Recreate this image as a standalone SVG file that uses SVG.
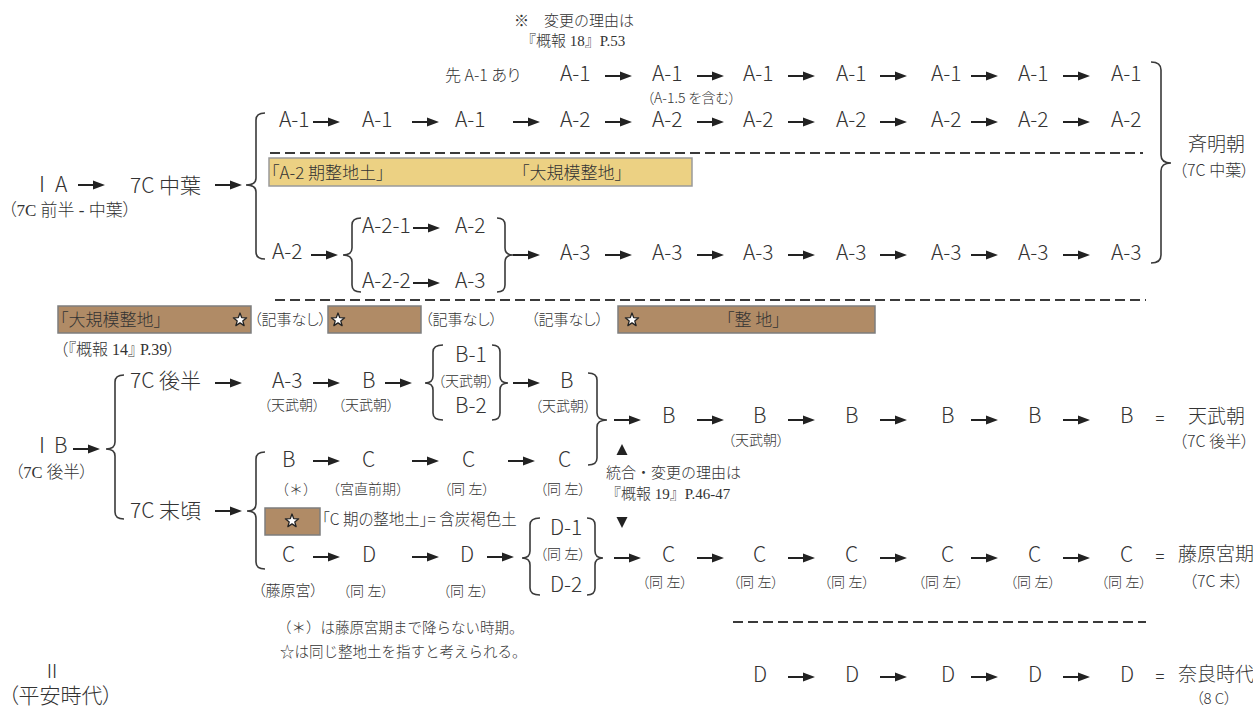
<svg xmlns="http://www.w3.org/2000/svg" xmlns:xlink="http://www.w3.org/1999/xlink" width="1253" height="706" viewBox="0 0 1253 706">
<style>
text{fill:#333;font-feature-settings:"palt"}
.np{font-feature-settings:normal}
.n{font-family:"Noto Sans CJK JP",sans-serif;font-size:21px;font-weight:300}
.m{font-family:"Liberation Serif","Noto Sans CJK JP",serif;font-size:14px;font-weight:300}
.m15{font-family:"Liberation Serif","Noto Sans CJK JP",serif;font-size:15px;font-weight:300}
.g{font-family:"Noto Sans CJK JP",sans-serif;font-size:15px;font-weight:300}
.b{font-family:"Noto Sans CJK JP",sans-serif;font-size:17px;font-weight:300}
.r{font-family:"Noto Sans CJK JP",sans-serif;font-size:19px;font-weight:300}
.eq{font-family:"Noto Sans CJK JP",sans-serif;font-size:16px;text-anchor:middle}
.br{fill:none;stroke:#3a3a3a;stroke-width:1.6}
.dash{stroke:#3a3a3a;stroke-width:2;stroke-dasharray:10 5}
.ylw{fill:#ECD183;stroke:#9a9a9a;stroke-width:1.5}
.brn{fill:#B08B66;stroke:#7d7d7d;stroke-width:1.5}
.ar{fill:#222}
.star{fill:#fff;stroke:#222;stroke-width:1.3;stroke-linejoin:round}
</style>
<defs>
<path id="ar" d="M0,-1.1 H15 V-4.5 L27,0 L15,4.5 V1.1 H0 Z"/>
<polygon id="st" points="0,-7 1.7,-2.35 6.66,-2.16 2.76,0.9 4.11,5.66 0,2.9 -4.11,5.66 -2.76,0.9 -6.66,-2.16 -1.7,-2.35"/>
</defs>
<rect width="1253" height="706" fill="#fff"/>

<!-- connectors -->
<g id="connectors">
<g class="ar">
<use href="#ar" x="605" y="76"/><use href="#ar" x="697" y="76"/><use href="#ar" x="788" y="76"/><use href="#ar" x="880" y="76"/><use href="#ar" x="971" y="76"/><use href="#ar" x="1063" y="76"/>
<use href="#ar" x="313" y="122"/><use href="#ar" x="412" y="122"/><use href="#ar" x="513" y="122"/><use href="#ar" x="605" y="122"/><use href="#ar" x="697" y="122"/><use href="#ar" x="788" y="122"/><use href="#ar" x="880" y="122"/><use href="#ar" x="971" y="122"/><use href="#ar" x="1063" y="122"/>
<use href="#ar" x="78" y="185"/><use href="#ar" x="215" y="185"/>
<use href="#ar" x="311" y="255"/><use href="#ar" x="413" y="228"/><use href="#ar" x="413" y="283"/>
<use href="#ar" x="513" y="255"/><use href="#ar" x="605" y="255"/><use href="#ar" x="697" y="255"/><use href="#ar" x="788" y="255"/><use href="#ar" x="880" y="255"/><use href="#ar" x="971" y="255"/><use href="#ar" x="1063" y="255"/>
<use href="#ar" x="73" y="449"/>
<use href="#ar" x="215" y="383"/><use href="#ar" x="313" y="383"/><use href="#ar" x="385" y="383"/><use href="#ar" x="513" y="383"/>
<use href="#ar" x="614" y="420"/><use href="#ar" x="697" y="420"/><use href="#ar" x="788" y="420"/><use href="#ar" x="880" y="420"/><use href="#ar" x="971" y="420"/><use href="#ar" x="1063" y="420"/>
<use href="#ar" x="215" y="511"/>
<use href="#ar" x="313" y="461"/><use href="#ar" x="412" y="461"/><use href="#ar" x="508" y="461"/>
<use href="#ar" x="313" y="557"/><use href="#ar" x="412" y="557"/><use href="#ar" x="487" y="557"/>
<use href="#ar" x="614" y="558"/><use href="#ar" x="697" y="558"/><use href="#ar" x="788" y="558"/><use href="#ar" x="880" y="558"/><use href="#ar" x="971" y="558"/><use href="#ar" x="1063" y="558"/>
<use href="#ar" x="788" y="677"/><use href="#ar" x="880" y="677"/><use href="#ar" x="971" y="677"/><use href="#ar" x="1063" y="677"/>
<polygon points="616.5,455 627.5,455 622,444"/>
<polygon points="616.5,517 627.5,517 622,528"/>
</g>
<g class="br">
<path d="M265,113 Q256,113 256,120 L256,178 Q256,185 246,185 Q256,185 256,192 L256,252 Q256,259 265,259"/>
<path d="M361,218 Q352,218 352,225 L352,248 Q352,255 343,255 Q352,255 352,262 L352,285 Q352,292 361,292"/>
<path d="M497,218 Q505,218 505,225 L505,248 Q505,255 513,255 Q505,255 505,262 L505,285 Q505,292 497,292"/>
<path d="M1151,62 Q1161,62 1161,70 L1161,155 Q1161,163 1171,163 Q1161,163 1161,171 L1161,255 Q1161,263 1151,263"/>
<path d="M124,375 Q115,375 115,382 L115,442 Q115,449 106,449 Q115,449 115,456 L115,512 Q115,519 124,519"/>
<path d="M265,452 Q256,452 256,459 L256,504 Q256,511 247,511 Q256,511 256,518 L256,562 Q256,569 265,569"/>
<path d="M443,345 Q433,345 433,352 L433,376 Q433,383 425,383 Q433,383 433,390 L433,413 Q433,420 443,420"/>
<path d="M492,345 Q500,345 500,352 L500,376 Q500,383 508,383 Q500,383 500,390 L500,413 Q500,420 492,420"/>
<path d="M588,373 Q597,373 597,380 L597,413 Q597,420 607,420 Q597,420 597,427 L597,458 Q597,465 588,465"/>
<path d="M540,518 Q530,518 530,525 L530,551 Q530,558 522,558 Q530,558 530,565 L530,588 Q530,595 540,595"/>
<path d="M587,518 Q595,518 595,525 L595,551 Q595,558 603,558 Q595,558 595,565 L595,588 Q595,595 587,595"/>
</g>
<line class="dash" x1="270" y1="153" x2="1143" y2="153"/>
<line class="dash" x1="275" y1="300" x2="1146" y2="300"/>
<line class="dash" x1="733" y1="622" x2="1146" y2="622"/>
</g>

<g id="note-top">
<text class="m15 np" x="514" y="26">※　変更の理由は</text>
<text class="m15 np" x="521" y="46">『概報 18』P.53</text>
</g>

<g id="r1-0"><text class="g" x="445" y="81" style="font-size:16px">先 A-1 あり</text></g>
<g id="r1-1"><text class="n" x="560" y="81">A-1</text></g>
<g id="r1-2"><text class="n" x="652" y="81">A-1</text><text class="g" x="647" y="103" style="font-size:14px">（A-1.5 を含む）</text></g>
<g id="r1-3"><text class="n" x="743" y="81">A-1</text></g>
<g id="r1-4"><text class="n" x="836" y="81">A-1</text></g>
<g id="r1-5"><text class="n" x="931" y="81">A-1</text></g>
<g id="r1-6"><text class="n" x="1018" y="81">A-1</text></g>
<g id="r1-7"><text class="n" x="1111" y="81">A-1</text></g>

<g id="r2-0"><text class="n" x="279" y="127">A-1</text></g>
<g id="r2-1"><text class="n" x="362" y="127">A-1</text></g>
<g id="r2-2"><text class="n" x="455" y="127">A-1</text></g>
<g id="r2-3"><text class="n" x="560" y="127">A-2</text></g>
<g id="r2-4"><text class="n" x="652" y="127">A-2</text></g>
<g id="r2-5"><text class="n" x="743" y="127">A-2</text></g>
<g id="r2-6"><text class="n" x="836" y="127">A-2</text></g>
<g id="r2-7"><text class="n" x="931" y="127">A-2</text></g>
<g id="r2-8"><text class="n" x="1018" y="127">A-2</text></g>
<g id="r2-9"><text class="n" x="1111" y="127">A-2</text></g>

<g id="band-a2">
<rect class="ylw" x="269" y="158" width="423" height="28"/>
<text class="b" x="271" y="179">「A-2 期整地土」</text>
<text class="b" x="521" y="179">「大規模整地」</text>
</g>

<g id="ia"><text class="n" x="42" y="192" text-anchor="middle">Ⅰ</text><text class="n" x="55" y="192">A</text><text class="m" x="8" y="216" style="font-size:17px">（7C 前半 - 中葉）</text></g>
<g id="ia-mid"><text class="n" x="130" y="193">7C 中葉</text></g>

<g id="r3-0"><text class="n" x="272" y="259">A-2</text></g>
<g id="r3-a21"><text class="n" x="362" y="233">A-2-1</text></g>
<g id="r3-a21b"><text class="n" x="455" y="233">A-2</text></g>
<g id="r3-a22"><text class="n" x="362" y="288">A-2-2</text></g>
<g id="r3-a22b"><text class="n" x="455" y="288">A-3</text></g>
<g id="r3-1"><text class="n" x="560" y="260">A-3</text></g>
<g id="r3-2"><text class="n" x="652" y="260">A-3</text></g>
<g id="r3-3"><text class="n" x="743" y="260">A-3</text></g>
<g id="r3-4"><text class="n" x="836" y="260">A-3</text></g>
<g id="r3-5"><text class="n" x="931" y="260">A-3</text></g>
<g id="r3-6"><text class="n" x="1018" y="260">A-3</text></g>
<g id="r3-7"><text class="n" x="1111" y="260">A-3</text></g>

<g id="saimei"><text class="r" x="1188" y="151">斉明朝</text><text class="g" x="1179" y="176" style="font-size:16px">（7C 中葉）</text></g>

<g id="band-brown">
<rect class="brn" x="58" y="306" width="193" height="27"/>
<text class="b" x="60" y="326">「大規模整地」</text>
<use href="#st" class="star" x="240" y="320"/>
<text class="m15" x="254" y="325">（記事なし）</text>
<rect class="brn" x="328" y="306" width="93" height="27"/>
<use href="#st" class="star" x="338" y="320"/>
<text class="m15" x="425" y="325">（記事なし）</text>
<text class="m15" x="531" y="325">（記事なし）</text>
<rect class="brn" x="618" y="306" width="257" height="27"/>
<use href="#st" class="star" x="632" y="320"/>
<text class="b" x="726" y="326">「整 地」</text>
<text class="m15" x="60" y="355" style="font-size:16px">（『概報 14』 P.39）</text>
</g>

<g id="ib"><text class="n" x="42" y="453" text-anchor="middle">Ⅰ</text><text class="n" x="54" y="453">B</text><text class="m" x="15" y="478" style="font-size:16.5px">（7C 後半）</text></g>
<g id="ib-late"><text class="n" x="130" y="388">7C 後半</text></g>
<g id="ib-a3"><text class="n" x="272" y="388">A-3</text><text class="m" x="264" y="410">（天武朝）</text></g>
<g id="ib-b"><text class="n" x="362" y="388">B</text><text class="m" x="338" y="410">（天武朝）</text></g>
<g id="ib-b12"><text class="n" x="455" y="362">B-1</text><text class="m" x="438" y="386">（天武朝）</text><text class="n" x="455" y="413">B-2</text></g>
<g id="ib-b2"><text class="n" x="560" y="388">B</text><text class="m" x="535" y="411">（天武朝）</text></g>

<g id="tenmu-row">
<text class="n" x="662" y="423">B</text>
<text class="n" x="753" y="423">B</text><text class="m" x="728" y="445">（天武朝）</text>
<text class="n" x="845" y="423">B</text>
<text class="n" x="941" y="423">B</text>
<text class="n" x="1028" y="423">B</text>
<text class="n" x="1120" y="423">B</text>
<text class="eq" x="1160" y="424">=</text>
</g>
<g id="tenmu"><text class="r" x="1188" y="423">天武朝</text><text class="g" x="1179" y="447" style="font-size:16px">（7C 後半）</text></g>

<g id="note-19">
<text class="m15 np" x="606" y="478">統合・変更の理由は</text>
<text class="m15 np" x="606" y="499">『概報 19』P.46-47</text>
</g>

<g id="ib-end"><text class="n" x="130" y="518">7C 末頃</text></g>
<g id="up-row">
<text class="n" x="282" y="467">B</text><text class="m np" x="275" y="494">（＊）</text>
<text class="n" x="362" y="467">C</text><text class="m np" x="326" y="494">（宮直前期）</text>
<text class="n" x="462" y="467">C</text><text class="m" x="444" y="494">（同 左）</text>
<text class="n" x="558" y="467">C</text><text class="m" x="540" y="494">（同 左）</text>
</g>
<g id="band-c">
<rect class="brn" x="265" y="508" width="55" height="27"/>
<use href="#st" class="star" x="292" y="521"/>
<text class="g" x="322" y="525" style="font-size:15.5px">「C 期の整地土」= 含炭褐色土</text>
</g>
<g id="lo-row">
<text class="n" x="282" y="562">C</text><text class="m" x="258" y="596" style="font-size:15px">（藤原宮）</text>
<text class="n" x="362" y="562">D</text><text class="m" x="343" y="596">（同 左）</text>
<text class="n" x="460" y="562">D</text><text class="m" x="443" y="596">（同 左）</text>
<text class="n" x="550" y="535">D-1</text><text class="m" x="540" y="559">（同 左）</text><text class="n" x="550" y="592">D-2</text>
</g>
<g id="fujiwara-row">
<text class="n" x="662" y="562">C</text><text class="m" x="642" y="587">（同 左）</text>
<text class="n" x="753" y="562">C</text><text class="m" x="733" y="587">（同 左）</text>
<text class="n" x="845" y="562">C</text><text class="m" x="824" y="587">（同 左）</text>
<text class="n" x="941" y="562">C</text><text class="m" x="918" y="587">（同 左）</text>
<text class="n" x="1028" y="562">C</text><text class="m" x="1010" y="587">（同 左）</text>
<text class="n" x="1120" y="562">C</text><text class="m" x="1101" y="587">（同 左）</text>
<text class="eq" x="1160" y="562">=</text>
</g>
<g id="fujiwara"><text class="r" x="1178" y="561">藤原宮期</text><text class="g" x="1189" y="587" style="font-size:16px">（7C 末）</text></g>

<g id="notes">
<text class="m np" x="277" y="633" style="font-size:14.5px">（＊）は藤原宮期まで降らない時期。</text>
<text class="m np" x="280" y="657" style="font-size:14.5px">☆は同じ整地土を指すと考えられる。</text>
</g>

<g id="ii"><text class="n" x="52" y="678" text-anchor="middle" style="font-size:19px">Ⅱ</text><text class="m" x="8" y="703" style="font-size:21px">（平安時代）</text></g>

<g id="nara-row">
<text class="n" x="753" y="682">D</text>
<text class="n" x="845" y="682">D</text>
<text class="n" x="941" y="682">D</text>
<text class="n" x="1028" y="682">D</text>
<text class="n" x="1120" y="682">D</text>
<text class="eq" x="1160" y="682">=</text>
</g>
<g id="nara"><text class="r" x="1178" y="681">奈良時代</text><text class="g" x="1196" y="704" style="font-size:15px">（8 C）</text></g>
</svg>
